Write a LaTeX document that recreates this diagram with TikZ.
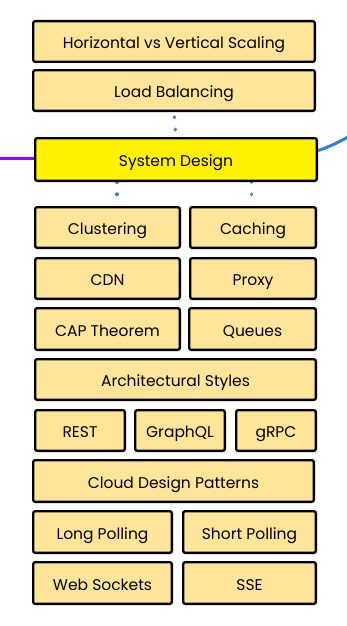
\documentclass[tikz,border=0pt]{standalone}
\usepackage{fontspec}
\setmainfont{Poppins}
\usetikzlibrary{calc,backgrounds}
\definecolor{boxfill}{HTML}{FFE599}
\definecolor{dotblue}{HTML}{3A7EE0}
\definecolor{violetline}{HTML}{9B00FF}
\definecolor{curveblue}{HTML}{2F7FE0}
\tikzset{
  box/.style={draw=black, line width=2.4pt, rounded corners=2pt, fill=boxfill,
    inner sep=0pt, text height=11pt, text depth=0pt,
    font=\fontsize{15.5}{17}\selectfont, text=black},
  mainbox/.style={box, fill=yellow},
  dotline/.style={draw=dotblue, line width=3.4pt, line cap=round,
    dash pattern=on 0.6pt off 11.7pt},
}
% \bx{name}{x1}{x2}{y1}{y2}{label}: box between two outer edges (pixel units)
\newcommand\bx[7][box]{%
  \node[#1, minimum width={#4-#3-2.4}, minimum height={#6-#5-2.4}]
    (#2) at ({(#3+#4)/2},{(#5+#6)/2}) {\raisebox{-1.8pt}{#7}};}
\begin{document}
\begin{tikzpicture}[x=1pt,y=-1pt]
\useasboundingbox (0,0) rectangle (347,626);
\bx{hv}{32}{316}{20}{63}{Horizontal vs Vertical Scaling}
\bx{lb}{32}{316}{69}{112}{Load Balancing}
\bx[mainbox]{sd}{34}{318}{137}{182}{System Design}
\bx{cl}{34}{181}{206}{249}{Clustering}
\bx{ca}{189}{317}{206}{249}{Caching}
\bx{cdn}{34}{181}{257}{300}{CDN}
\bx{px}{189}{317}{257}{300}{Proxy}
\bx{cap}{34}{181}{307}{351}{CAP Theorem}
\bx{qu}{188}{317}{307}{351}{Queues}
\bx{as}{34}{317}{358}{401}{Architectural Styles}
\bx{rest}{34}{126}{409}{452}{REST}
\bx{gql}{134}{226}{409}{452}{GraphQL}
\bx{grpc}{235}{317}{409}{452}{gRPC}
\bx{cdp}{32}{315}{459}{503}{Cloud Design Patterns}
\bx{lp}{32}{173}{510}{554}{Long Polling}
\bx{sp}{182}{317}{510}{554}{Short Polling}
\bx{ws}{32}{173}{561}{605}{Web Sockets}
\bx{sse}{182}{317}{561}{605}{SSE}

\begin{scope}[on background layer]
  % dotted links around the central topic
  \draw[dotline, dash phase=7.3pt] (lb.south) -- (sd.north);
  \coordinate (d1) at ($(sd.south west)!0.292!(sd.south east)$);
  \coordinate (d2) at ($(sd.south west)!0.766!(sd.south east)$);
  \draw[dotline, dash phase=0.3pt] (d1) -- (d1 |- cl.north);
  \draw[dotline, dash phase=0.3pt] (d2) -- (d2 |- ca.north);
  % branches leaving the picture
  \coordinate (left) at (0,158);
  \draw[violetline, line width=3pt] (left) -- (left -| sd.west);
  \coordinate (right) at (350,136);
  \draw[curveblue, line width=3pt] ([yshift=9pt]sd.east)
    .. controls (328,147.5) and (339,142) .. (right);
\end{scope}
\end{tikzpicture}
\end{document}
